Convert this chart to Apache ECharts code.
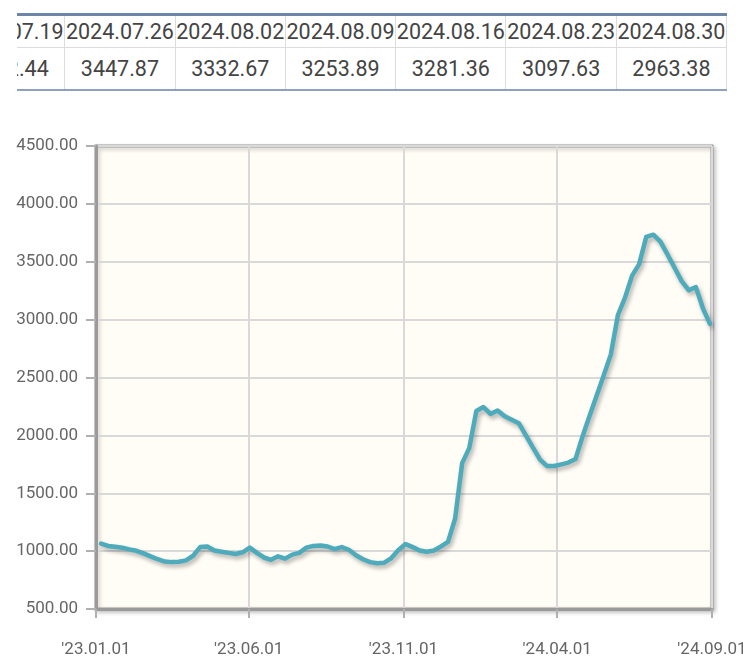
<!DOCTYPE html>
<html><head><meta charset="utf-8">
<script src="https://cdn.jsdelivr.net/npm/echarts@6/dist/echarts.min.js"></script>
<style>
html,body{margin:0;padding:0;background:#fff;width:743px;height:659px;overflow:hidden}
#chart{position:absolute;left:0;top:0;width:743px;height:659px}
#tbl{position:absolute;left:17px;top:13px;width:710px;height:78px;overflow:hidden;border-top:3px solid #6d86a8;border-bottom:2px solid #8fa1bc;box-sizing:border-box;background:#fff;z-index:2}
#inner{position:absolute;left:-62px;top:0;font-family:Roboto,"Liberation Sans",sans-serif;color:#444;font-size:21.5px}
.row{display:flex}
.cell{width:110.3px;box-sizing:border-box;border-right:1px solid #dcdcdc;text-align:center;white-space:nowrap}
.h .cell{height:32px;line-height:32px;border-bottom:1px solid #dcdcdc}
.d .cell{height:41px;line-height:41px}
</style>
</head><body>
<div id="chart"></div>
<div id="tbl"><div id="inner"></div></div>
<script>
// table data
var tableDates = ['2024.07.19','2024.07.26','2024.08.02','2024.08.09','2024.08.16','2024.08.23','2024.08.30'];
var tableValues = ['3562.44','3447.87','3332.67','3253.89','3281.36','3097.63','2963.38'];

// weekly index values
var dates = [
 '2023-01-06','2023-01-13','2023-01-20','2023-01-27','2023-02-03','2023-02-10','2023-02-17','2023-02-24',
 '2023-03-03','2023-03-10','2023-03-17','2023-03-24','2023-03-31','2023-04-07','2023-04-14','2023-04-21',
 '2023-04-28','2023-05-05','2023-05-12','2023-05-19','2023-05-26','2023-06-02','2023-06-09','2023-06-16',
 '2023-06-23','2023-06-30','2023-07-07','2023-07-14','2023-07-21','2023-07-28','2023-08-04','2023-08-11',
 '2023-08-18','2023-08-25','2023-09-01','2023-09-08','2023-09-15','2023-09-22','2023-09-29','2023-10-06',
 '2023-10-13','2023-10-20','2023-10-27','2023-11-03','2023-11-10','2023-11-17','2023-11-24','2023-12-01',
 '2023-12-08','2023-12-15','2023-12-22','2023-12-29','2024-01-05','2024-01-12','2024-01-19','2024-01-26',
 '2024-02-02','2024-02-09','2024-02-16','2024-02-23','2024-03-01','2024-03-08','2024-03-15','2024-03-22',
 '2024-03-29','2024-04-05','2024-04-12','2024-04-19','2024-04-26','2024-05-03','2024-05-10','2024-05-17',
 '2024-05-24','2024-05-31','2024-06-07','2024-06-14','2024-06-21','2024-06-28','2024-07-05','2024-07-12',
 '2024-07-19','2024-07-26','2024-08-02','2024-08-09','2024-08-16','2024-08-23','2024-08-30'
];
var values = [
 1065,1045,1038,1030,1015,1003,980,955,
 930,910,905,908,920,960,1035,1040,
 1005,995,985,975,990,1030,985,945,
 925,955,935,970,985,1030,1045,1048,
 1040,1018,1035,1012,965,930,905,895,
 900,940,1010,1062,1035,1005,995,1005,
 1040,1080,1280,1760,1890,2210,2245,2185,
 2215,2165,2135,2105,2000,1895,1790,1735,
 1735,1750,1765,1795,1990,2170,2345,2520,
 2700,3040,3190,3380,3480,3715,3733.80,3674.39,
 3562.44,3447.87,3332.67,3253.89,3281.36,3097.63,2963.38
];
var xTicks = ['2023-01-01','2023-06-01','2023-11-01','2024-04-01','2024-09-01'];
var yMin = 500, yMax = 4500, yStep = 500;

// build table
var inner = document.getElementById('inner');
function mkRow(cls, arr){
  var r = document.createElement('div'); r.className = 'row ' + cls;
  arr.forEach(function(t){ var c = document.createElement('div'); c.className='cell'; c.textContent=t; r.appendChild(c); });
  inner.appendChild(r);
}
mkRow('h', tableDates);
mkRow('d', tableValues);

function ts(s){ var p = s.split('-'); return Date.UTC(+p[0], +p[1]-1, +p[2]); }
function fmt(v){var d=new Date(v);function p(n){return (n<10?'0':'')+n;}
  return "'"+String(d.getUTCFullYear()).slice(2)+'.'+p(d.getUTCMonth()+1)+'.'+p(d.getUTCDate());}
var tickVals = xTicks.map(ts);
var chart = echarts.init(document.getElementById('chart'), null, {renderer:'canvas'});
var lab = {color:'#666', fontSize:17, fontFamily:'Roboto, "Liberation Sans", sans-serif'};
chart.setOption({
  animation:false,
  backgroundColor:'#fff',
  grid:{left:96,right:31,top:146,bottom:50,outerBoundsMode:'none',containLabel:false,
        show:true,backgroundColor:'#fffdf5',borderColor:'#9a9a9a',borderWidth:3,
        shadowColor:'rgba(0,0,0,0.22)',shadowBlur:4,shadowOffsetX:2,shadowOffsetY:2},
  xAxis:{
    type:'value', min:tickVals[0], max:tickVals[tickVals.length-1], scale:true,
    axisLine:{show:true,lineStyle:{color:'#9a9a9a',width:3}},
    axisTick:{show:true,customValues:tickVals,length:9,lineStyle:{color:'#b0b0b0',width:2}},
    axisLabel:Object.assign({customValues:tickVals,margin:32,formatter:fmt},lab),
    splitLine:{show:true,lineStyle:{color:'#d9d9d9',width:2}}
  },
  yAxis:{
    type:'value', min:yMin, max:yMax, interval:yStep,
    axisLine:{show:true,lineStyle:{color:'#9a9a9a',width:3}},
    axisTick:{show:true,length:10,lineStyle:{color:'#b0b0b0',width:2}},
    axisLabel:Object.assign({margin:18,formatter:function(v){return v.toFixed(2);}},lab),
    splitLine:{show:true,lineStyle:{color:'#d9d9d9',width:2}}
  },
  series:[{
    type:'line', showSymbol:false, smooth:false,
    data:dates.map(function(d,i){return [ts(d), values[i]];}),
    lineStyle:{color:'#4eabbc',width:4.5,cap:'round',join:'round',
      shadowColor:'rgba(0,0,0,0.3)',shadowBlur:4,shadowOffsetX:2,shadowOffsetY:3}
  }]
});
</script>
</body></html>
